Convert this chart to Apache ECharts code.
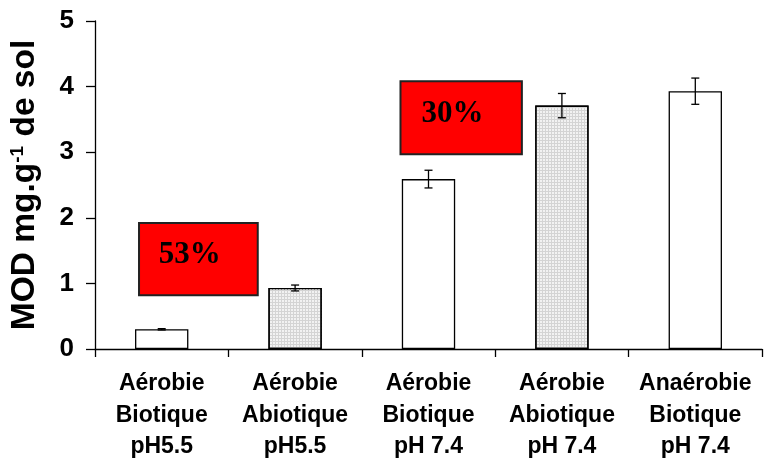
<!DOCTYPE html>
<html>
<head>
<meta charset="utf-8">
<script src="https://cdn.jsdelivr.net/npm/echarts@6/dist/echarts.min.js"></script>
<style>
html,body{margin:0;padding:0;background:#fff;}
#chart{width:766px;height:468px;}
</style>
</head>
<body>
<div id="chart"></div>
<script>
// ---- data ----
var categories = ['Aérobie\nBiotique\npH5.5', 'Aérobie\nAbiotique\npH5.5', 'Aérobie\nBiotique\npH 7.4', 'Aérobie\nAbiotique\npH 7.4', 'Anaérobie\nBiotique\npH 7.4'];
var values = [0.30, 0.93, 2.59, 3.71, 3.93];
var errors = [0.01, 0.045, 0.135, 0.185, 0.20];
var yTicks = [0, 1, 2, 3, 4, 5];
// annotation boxes (in data units: category index, value)
var boxLabels = ['53%', '30%'];
var boxX0 = [-0.17, 1.79];
var boxX1 = [0.72, 2.70];
var boxY0 = [0.82, 2.97];
var boxY1 = [1.92, 4.08];
var textX = [0.21, 2.18];
var textY = [1.44, 3.58];

var patterned = [false, true, false, true, false];

var chart = echarts.init(document.getElementById('chart'), null, {renderer: 'canvas'});

var barData = values.map(function (v, i) {
  var style = patterned[i] ? {
    color: '#d4d4d4',
    decal: {symbol: 'rect', symbolSize: 1, dashArrayX: [2, 1], dashArrayY: [2, 1], color: 'rgba(245,245,245,0.9)', rotation: 0}
  } : {color: '#ffffff'};
  return {value: v, itemStyle: style};
});

var errData = values.map(function (v, i) { return [i, v - errors[i], v + errors[i]]; });
var boxData = boxLabels.map(function (t, i) { return [boxX0[i], boxY0[i], boxX1[i], boxY1[i], textX[i], textY[i], t]; });

var option = {
  animation: false,
  backgroundColor: '#ffffff',
  grid: {left: 93, right: 4, top: 21, bottom: 119, containLabel: false},
  xAxis: [{
    type: 'category',
    data: categories,
    boundaryGap: true,
    axisLine: {onZero: false, lineStyle: {color: '#000', width: 1.3}},
    axisTick: {show: true, alignWithLabel: false, length: 8, lineStyle: {color: '#000', width: 1.3}},
    axisLabel: {interval: 0, color: '#000', fontFamily: 'Liberation Sans, Arial', fontWeight: 'bold', fontSize: 23, lineHeight: 31.5, margin: 19},
    splitLine: {show: false}
  }, {
    type: 'value',
    min: -0.5, max: 4.5,
    show: false
  }],
  yAxis: {
    type: 'value',
    min: yTicks[0], max: yTicks[yTicks.length - 1], interval: 1,
    name: '{m|MOD mg.g}{s|-1}{m| de sol}',
    nameLocation: 'middle',
    nameRotate: 90,
    nameGap: 53,
    nameTextStyle: {
      rich: {
        m: {fontFamily: 'Liberation Sans, Arial', fontWeight: 'bold', fontSize: 33.5, color: '#000'},
        s: {fontFamily: 'Liberation Sans, Arial', fontWeight: 'bold', fontSize: 19, color: '#000', verticalAlign: 'top', padding: [0, 0, 14, 0]}
      }
    },
    axisLine: {show: true, onZero: false, lineStyle: {color: '#000', width: 1.3}},
    axisTick: {show: true, inside: false, length: 9, lineStyle: {color: '#000', width: 1.3}},
    axisLabel: {color: '#000', fontFamily: 'Liberation Sans, Arial', fontWeight: 'bold', fontSize: 26, margin: 21},
    splitLine: {show: false}
  },
  series: [{
    type: 'bar',
    data: barData,
    barWidth: '40%',
    itemStyle: {borderColor: '#000', borderWidth: 1.3},
    z: 2
  }, {
    type: 'custom',
    data: errData,
    z: 5,
    renderItem: function (params, api) {
      var lo = api.coord([api.value(0), api.value(1)]);
      var hi = api.coord([api.value(0), api.value(2)]);
      var w = 4;
      var st = {stroke: '#000', lineWidth: 1.3};
      return {type: 'group', children: [
        {type: 'line', shape: {x1: lo[0], y1: lo[1], x2: hi[0], y2: hi[1]}, style: st},
        {type: 'line', shape: {x1: lo[0] - w, y1: lo[1], x2: lo[0] + w, y2: lo[1]}, style: st},
        {type: 'line', shape: {x1: hi[0] - w, y1: hi[1], x2: hi[0] + w, y2: hi[1]}, style: st}
      ]};
    }
  }, {
    type: 'custom',
    xAxisIndex: 1,
    data: boxData,
    z: 6,
    renderItem: function (params, api) {
      var p0 = api.coord([api.value(0), api.value(1)]);
      var p1 = api.coord([api.value(2), api.value(3)]);
      var pt = api.coord([api.value(4), api.value(5)]);
      var label = boxLabels[params.dataIndex];
      return {type: 'group', children: [
        {type: 'rect', shape: {x: Math.min(p0[0], p1[0]), y: Math.min(p0[1], p1[1]), width: Math.abs(p1[0] - p0[0]), height: Math.abs(p1[1] - p0[1])},
          style: {fill: '#ff0000', stroke: '#222', lineWidth: 2}},
        {type: 'text', x: pt[0], y: pt[1], style: {text: label, fill: '#000', font: 'bold 31px "Liberation Serif", "Times New Roman", serif', align: 'center', verticalAlign: 'middle'}}
      ]};
    }
  }]
};
chart.setOption(option);
</script>
</body>
</html>
